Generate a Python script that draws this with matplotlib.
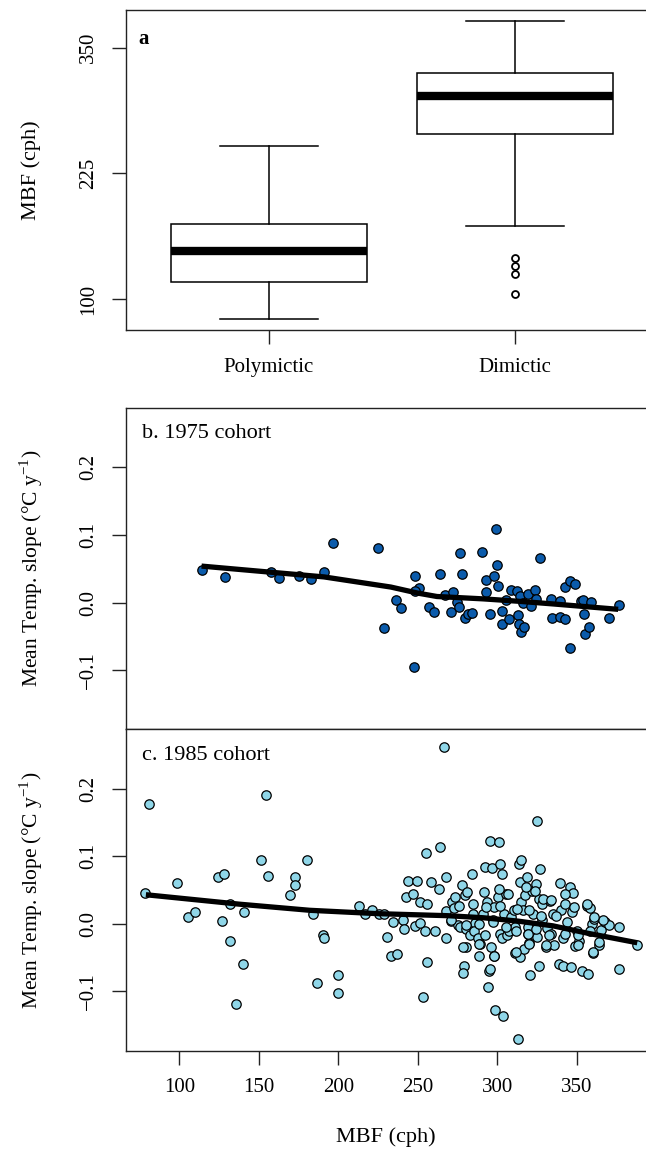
import matplotlib
matplotlib.use("Agg")
import matplotlib.pyplot as plt

plt.rcParams["font.family"] = ["Liberation Serif", "DejaVu Serif"]
plt.rcParams["mathtext.fontset"] = "custom"
plt.rcParams["mathtext.rm"] = "Liberation Serif"
plt.rcParams["axes.unicode_minus"] = True

# --- panel a: box summaries (cph) ---
mix_types = ["Polymictic", "Dimictic"]
box_lo = [80.1, 172.6]
box_q1 = [116.6, 264.6]
box_med = [147.8, 302.3]
box_q3 = [174.9, 324.9]
box_hi = [252.2, 376.6]
dimictic_outliers = [141.1, 133.1, 124.9, 105.3]

# --- panel b: 1975 cohort ---
b_mbf = [114.1, 128.6, 157.4, 162.9, 175.0, 183.1, 190.7, 196.9, 224.7, 228.6,
         236.5, 239.4, 247.5, 248.3, 250.7, 248.0, 257.3, 260.4, 263.8, 266.9,
         270.6, 272.4, 274.6, 275.9, 276.8, 278.1, 279.6, 281.6, 284.0, 290.1,
         292.8, 292.8, 295.5, 297.7, 299.2, 299.8, 300.5, 303.1, 303.1, 305.3,
         307.5, 308.6, 312.5, 313.0, 314.1, 313.5, 315.2, 317.0, 316.3, 319.2,
         321.0, 323.6, 324.5, 326.9, 333.5, 334.6, 339.4, 339.6, 342.6, 342.7,
         345.7, 345.8, 349.1, 352.4, 353.9, 354.8, 355.0, 357.9, 359.0, 370.3,
         376.5]
b_slope = [0.048, 0.038, 0.046, 0.037, 0.040, 0.035, 0.046, 0.088, 0.081, -0.038,
           0.004, -0.008, -0.096, 0.040, 0.021, 0.017, -0.006, -0.014, 0.042, 0.011,
           -0.014, 0.015, 0.001, -0.007, 0.073, 0.042, -0.023, -0.017, -0.016, 0.075,
           0.034, 0.016, -0.017, 0.040, 0.109, 0.055, 0.025, -0.032, -0.012, 0.004,
           -0.025, 0.019, 0.017, -0.019, 0.010, -0.031, -0.044, -0.036, 0.000, 0.013,
           -0.005, 0.019, 0.006, 0.066, 0.005, -0.023, -0.022, 0.002, -0.025, 0.023,
           0.032, -0.067, 0.027, 0.002, 0.004, -0.017, -0.047, -0.036, 0.001, -0.023,
           -0.004]
b_fit_x = [114, 191, 233, 250, 262, 291, 313, 335, 376]
b_fit_y = [0.054, 0.038, 0.023, 0.014, 0.009, 0.0055, 0.002, -0.002, -0.010]

# --- panel c: 1985 cohort ---
c_mbf = [80.8, 78.6, 98.7, 105.5, 109.7, 124.6, 128.1, 126.8, 132.2, 131.8,
         135.5, 139.9, 141.0, 151.3, 154.8, 156.1, 169.5, 172.8, 173.0, 180.0,
         184.1, 186.3, 190.3, 190.7, 199.9, 199.5, 213.3, 216.5, 220.9, 225.3,
         228.6, 230.8, 233.0, 236.7, 234.7, 240.6, 241.1, 242.8, 244.1, 247.2,
         249.8, 248.3, 251.6, 251.2, 253.4, 254.5, 255.1, 256.0, 256.0, 258.2,
         260.8, 263.2, 263.9, 266.5, 267.6, 268.0, 268.0, 270.9, 271.8, 272.8,
         273.5, 275.2, 276.3, 277.9, 278.9, 278.5, 279.6, 280.0, 280.5, 281.1,
         282.7, 284.0, 284.9, 286.2, 285.5, 287.7, 288.4, 289.2, 291.0, 292.1,
         292.5, 293.2, 294.3, 294.9, 295.4, 295.8, 296.5, 297.1, 298.0, 298.2,
         298.7, 300.2, 300.9, 301.5, 302.0, 303.1, 303.1, 303.7, 304.1, 305.2,
         305.9, 307.4, 308.5, 310.7, 311.1, 311.4, 312.9, 313.6, 314.0, 314.4,
         315.1, 315.1, 316.2, 316.8, 317.7, 318.4, 319.1, 319.5, 319.9, 320.3,
         321.6, 322.7, 324.3, 324.9, 324.9, 326.0, 326.5, 327.1, 327.8, 328.2,
         330.4, 331.5, 333.0, 333.7, 334.8, 335.9, 338.7, 339.2, 340.3, 341.0,
         341.4, 342.5, 343.6, 345.7, 346.2, 346.8, 347.5, 348.4, 349.0, 350.1,
         351.2, 353.4, 356.7, 357.3, 358.4, 359.5, 360.2, 360.6, 363.7, 365.0,
         367.6, 370.3, 376.4, 376.4, 388.0, 291.9, 301.3, 306.6, 318.1, 323.4,
         328.6, 333.9, 342.3, 292.6, 302.0, 312.5, 319.9, 327.2, 336.7, 276.0,
         284.4, 270.8, 280.3, 288.7, 297.1, 305.5, 311.8, 319.1, 324.4, 332.8,
         342.3, 350.6, 358.0, 350.6, 359.9, 364.1, 366.2, 356.7, 360.9, 278.2,
         288.7, 298.1, 311.8, 320.2, 330.7, 295.1]
c_slope = [0.177, 0.046, 0.060, 0.010, 0.017, 0.069, 0.073, 0.004, 0.029, -0.025,
           -0.118, -0.060, 0.017, 0.094, 0.191, 0.071, 0.042, 0.069, 0.057, 0.094,
           0.015, -0.087, -0.016, -0.021, -0.075, -0.102, 0.027, 0.015, 0.021, 0.015,
           0.015, -0.019, -0.048, -0.044, 0.002, 0.006, -0.008, 0.039, 0.064, 0.044,
           0.064, -0.003, 0.032, 0.001, -0.108, -0.011, 0.104, 0.030, -0.056, 0.062,
           -0.010, 0.052, 0.113, 0.261, 0.069, -0.021, 0.019, 0.004, 0.032, 0.024,
           0.039, -0.002, -0.004, 0.057, -0.063, -0.073, 0.042, -0.034, -0.008, 0.047,
           -0.017, 0.074, 0.030, 0.001, -0.010, -0.021, -0.048, -0.030, 0.015, 0.084,
           -0.016, 0.032, -0.094, -0.070, 0.123, -0.035, 0.083, 0.005, -0.047, 0.025,
           -0.128, 0.039, 0.121, -0.015, 0.089, 0.074, -0.021, -0.137, 0.015, 0.044,
           -0.016, -0.010, 0.010, 0.020, -0.005, -0.043, -0.170, 0.089, 0.062, -0.049,
           0.094, 0.032, 0.020, -0.037, 0.043, 0.069, -0.005, -0.015, -0.028, -0.076,
           0.049, 0.015, 0.059, 0.152, -0.020, 0.036, -0.063, 0.081, 0.030, 0.005,
           -0.035, -0.006, 0.034, -0.015, 0.015, -0.032, -0.059, 0.060, 0.020, -0.062,
           -0.021, 0.029, 0.002, 0.054, -0.064, 0.017, 0.046, 0.025, -0.033, -0.010,
           -0.025, -0.070, 0.027, -0.074, 0.024, 0.000, -0.043, 0.007, -0.031, -0.009,
           0.002, -0.002, -0.004, -0.067, -0.031, 0.047, 0.052, 0.044, 0.054, 0.049,
           0.037, 0.035, 0.044, 0.025, 0.027, 0.022, 0.020, 0.012, 0.012, 0.027,
           0.015, 0.005, -0.002, 0.000, 0.003, -0.005, -0.010, -0.015, -0.007, -0.017,
           -0.015, -0.017, -0.010, -0.032, -0.042, -0.027, 0.005, 0.030, 0.010, -0.035,
           -0.030, -0.047, -0.042, -0.030, -0.032, -0.067]
c_fit_x = [79, 138, 182, 225, 269, 291, 313, 335, 357, 388]
c_fit_y = [0.043, 0.029, 0.020, 0.015, 0.012, 0.009, 0.004, -0.003, -0.014, -0.028]

W, H = 646, 1149
fig = plt.figure(figsize=(W / 100, H / 100), dpi=100)


def px_axes(left, top, right, bottom):
    # axes rectangle given in pixel coordinates of the reference image
    return fig.add_axes([left / W, 1 - bottom / H, (right - left) / W, (bottom - top) / H])


def style(ax):
    for s in ax.spines.values():
        s.set_linewidth(1.0)
        s.set_color("#222222")
    ax.tick_params(direction="out", length=10, width=1.0, labelsize=15, pad=10,
                   color="#222222")
    ax.tick_params(axis="y", pad=10)
    for lab in ax.get_yticklabels():
        lab.set_rotation(90)
        lab.set_va("center")


# ---------------- panel a ----------------
ax_a = px_axes(125.7, 10, 658.3, 330)
stats = []
for i, name in enumerate(mix_types):
    stats.append(dict(label=name, whislo=box_lo[i], q1=box_q1[i], med=box_med[i],
                      q3=box_q3[i], whishi=box_hi[i],
                      fliers=dimictic_outliers if name == "Dimictic" else []))
ax_a.bxp(stats, positions=[1, 2], widths=0.8, showfliers=True, patch_artist=True,
         boxprops=dict(facecolor="white", edgecolor="black", linewidth=1.1),
         whiskerprops=dict(color="black", linewidth=1.1),
         capprops=dict(color="black", linewidth=1.1),
         capwidths=0.4,
         medianprops=dict(color="black", linewidth=6, solid_capstyle="butt"),
         flierprops=dict(marker="o", markersize=5, markerfacecolor="white",
                         markeredgecolor="black", markeredgewidth=1.3))
ax_a.set_xlim(0.4175, 2.5825)
ax_a.set_ylim(69.2, 387.5)
ax_a.set_yticks([100, 225, 350])
ax_a.set_xticks([1, 2])
ax_a.set_xticklabels(mix_types)
style(ax_a)
ax_a.text(137.7 / 532.6 * 0 + 0.023, 0.91, "a", transform=ax_a.transAxes,
          fontsize=15, fontweight="bold", ha="left", va="center")
fig.text(31 / W, 1 - 170 / H, "MBF (cph)", rotation=90, ha="center", va="center",
         fontsize=16)

ylab = "Mean Temp. slope (°C y$^{\\mathregular{-1}}$)"

# ---------------- panel b ----------------
ax_b = px_axes(125.7, 408.3, 661.9, 729.3)
ax_b.scatter(b_mbf, b_slope, s=46, c="#0b5bab", edgecolors="black", linewidths=0.9,
             zorder=2)
ax_b.plot(b_fit_x, b_fit_y, color="black", lw=3.8, solid_capstyle="butt", zorder=3)
ax_b.set_xlim(66.3, 403.5)
ax_b.set_ylim(-0.1876, 0.2876)
ax_b.set_yticks([-0.1, 0.0, 0.1, 0.2])
ax_b.set_yticklabels(["\u22120.1", "0.0", "0.1", "0.2"])
ax_b.set_xticks([])
style(ax_b)
ax_b.text(16.8 / 536.2, 1 - 25 / 321, "b. 1975 cohort", transform=ax_b.transAxes,
          fontsize=16, ha="left", va="center")
fig.text(31 / W, 1 - 568.8 / H, ylab, rotation=90, ha="center", va="center",
         fontsize=15.5)

# ---------------- panel c ----------------
ax_c = px_axes(125.7, 729.3, 661.9, 1050.7)
ax_c.scatter(c_mbf, c_slope, s=46, c="#8fd6e8", edgecolors="black", linewidths=0.9,
             zorder=2)
ax_c.plot(c_fit_x, c_fit_y, color="black", lw=3.8, solid_capstyle="butt", zorder=3)
ax_c.set_xlim(66.3, 403.5)
ax_c.set_ylim(-0.1876, 0.2876)
ax_c.set_yticks([-0.1, 0.0, 0.1, 0.2])
ax_c.set_yticklabels(["\u22120.1", "0.0", "0.1", "0.2"])
ax_c.set_xticks([100, 150, 200, 250, 300, 350])
style(ax_c)
ax_c.text(16.8 / 536.2, 1 - 26 / 321.4, "c. 1985 cohort", transform=ax_c.transAxes,
          fontsize=16, ha="left", va="center")
fig.text(31 / W, 1 - 890 / H, ylab, rotation=90, ha="center", va="center",
         fontsize=15.5)
fig.text((125.7 + (230 - 66.3) * 1.59) / W, 1 - 1137 / H, "MBF (cph)",
         ha="center", va="center", fontsize=16)

fig.savefig("out.png", dpi=100)
